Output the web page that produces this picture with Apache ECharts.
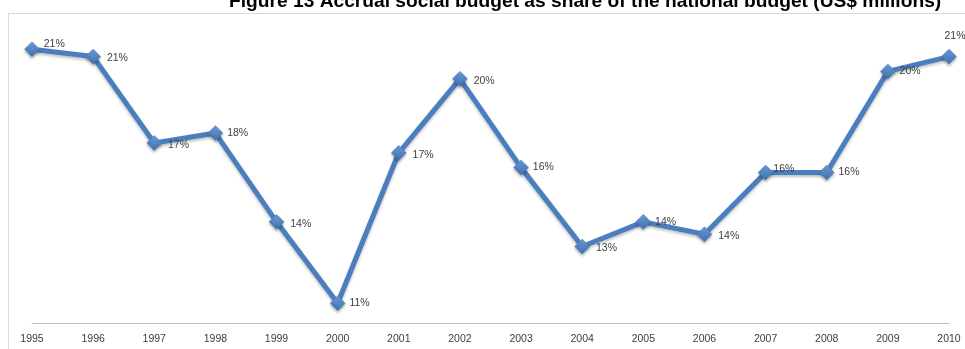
<!DOCTYPE html>
<html>
<head>
<meta charset="utf-8">
<script src="https://cdn.jsdelivr.net/npm/echarts@6/dist/echarts.min.js"></script>
<style>html,body{margin:0;padding:0;background:#fff;}#c{width:965px;height:349px;}</style>
</head>
<body>
<div id="c"></div>
<script>
const titleText = 'Figure 13 Accrual social budget as share of the national budget (US$ millions)';
const years = ['1995','1996','1997','1998','1999','2000','2001','2002','2003','2004','2005','2006','2007','2008','2009','2010'];
const sharePct = [21.1, 20.8, 17.3, 17.7, 14.1, 10.8, 16.9, 19.9, 16.3, 13.1, 14.1, 13.6, 16.1, 16.1, 20.2, 20.8];

const chart = echarts.init(document.getElementById('c'), null, {renderer: 'canvas'});
const labelFont = {fontFamily: 'Liberation Sans', fontSize: 10.5, color: '#404040'};
const data = sharePct.map((v, i) => {
  const d = {value: v};
  if (i === 0) d.label = {position: 'right', offset: [0, -5]};
  if (i === sharePct.length - 1) d.label = {position: 'top', offset: [6, -3]};
  if (i === 12) d.label = {position: 'right', offset: [-4, -3]};
  if (i === 1 || i === 2 || i === 4 || i === 6 || i === 7 || i === 9 || i === 11) d.label = {position: 'right', offset: [2, 2]};
  return d;
});
chart.setOption({
  animation: false,
  title: {
    text: titleText,
    left: 224, top: -13,
    textStyle: {fontFamily: 'Liberation Sans', fontSize: 19.2, fontWeight: 'bold', color: '#000'}
  },
  graphic: [
    {type: 'polyline', shape: {points: [[8.5, 349], [8.5, 13.5], [965, 13.5]]}, style: {stroke: '#d9d9d9', lineWidth: 1, fill: null}}
  ],
  grid: {left: 32, right: 16, top: 27, bottom: 26},
  xAxis: {
    type: 'category', data: years, boundaryGap: false,
    axisLine: {lineStyle: {color: '#bfbfbf', width: 1}},
    axisTick: {show: false},
    axisLabel: Object.assign({margin: 11, interval: 0}, labelFont)
  },
  yAxis: {
    type: 'value', min: 10, max: 22, show: false,
    splitLine: {show: false}
  },
  series: [{
    type: 'line', data: data,
    symbol: 'diamond', symbolSize: 15,
    lineStyle: {color: '#4a7ebf', width: 5, shadowColor: 'rgba(0,0,0,0.25)', shadowBlur: 3, shadowOffsetY: 2},
    itemStyle: {
      color: new echarts.graphic.LinearGradient(0, 0, 0, 1, [
        {offset: 0, color: '#6f9fd8'}, {offset: 1, color: '#3c6fb0'}
      ]),
      borderColor: '#4a7ebf', borderWidth: 0.5,
      shadowColor: 'rgba(0,0,0,0.3)', shadowBlur: 3, shadowOffsetY: 2
    },
    label: Object.assign({show: true, position: 'right', distance: 4, formatter: p => Math.round(p.value) + '%'}, labelFont)
  }]
});
</script>
</body>
</html>
